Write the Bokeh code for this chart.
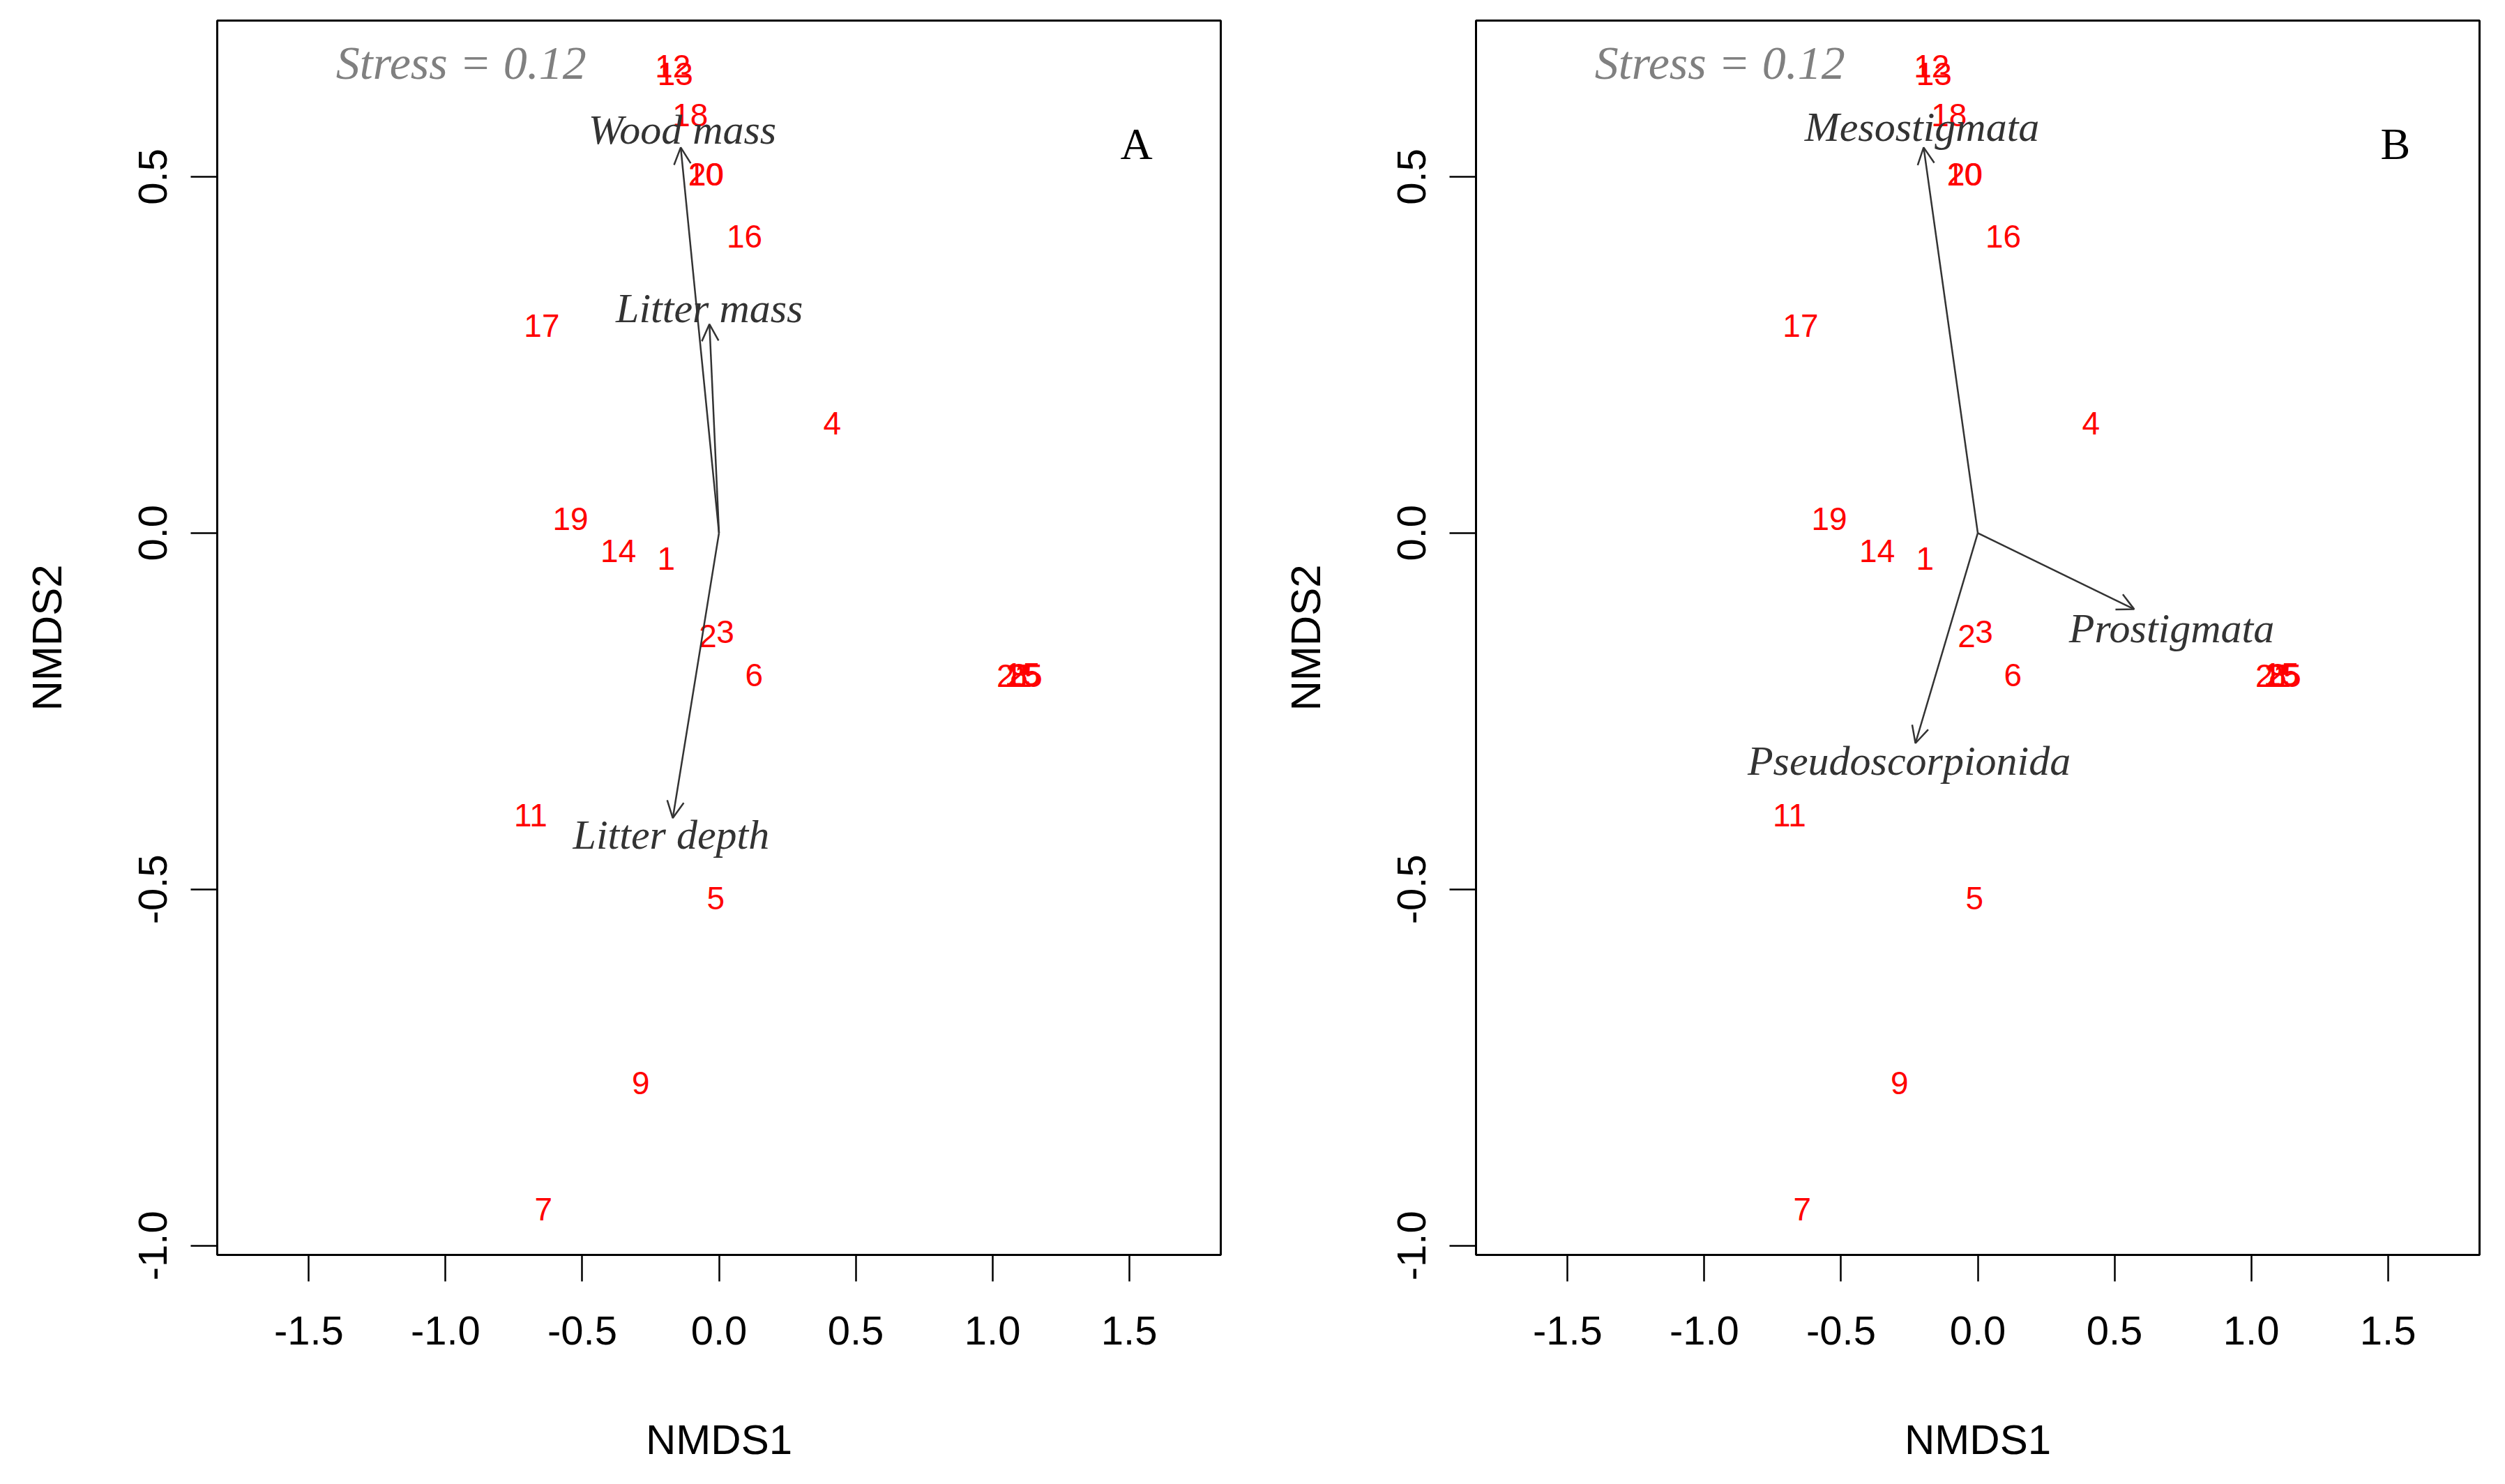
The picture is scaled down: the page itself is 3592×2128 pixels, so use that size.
import math
from bokeh.plotting import figure
from bokeh.layouts import row
from bokeh.models import (ColumnDataSource, Range1d, FixedTicker, PrintfTickFormatter,
                          Arrow, OpenHead, Label)
from bokeh.core.properties import value
from bokeh.embed import file_html
from bokeh.resources import INLINE

# ---- site scores (NMDS1, NMDS2) ----
site_labels = ["12", "13", "18", "10", "20", "16", "17", "4", "19", "14", "1",
               "2", "3", "6", "21", "8", "15", "25", "11", "5", "9", "7"]
nmds1 = [-0.169, -0.160, -0.105, -0.050, -0.047, 0.093, -0.648, 0.414, -0.543, -0.368, -0.193,
         -0.041, 0.023, 0.128, 1.080, 1.097, 1.110, 1.118, -0.689, -0.012, -0.286, -0.642]
nmds2 = [0.655, 0.644, 0.586, 0.503, 0.503, 0.416, 0.291, 0.154, 0.020, -0.025, -0.036,
         -0.145, -0.139, -0.199, -0.200, -0.199, -0.198, -0.200, -0.396, -0.512, -0.772, -0.949]

# ---- panel A: environmental vectors ----
env_names = ["Wood mass", "Litter mass", "Litter depth"]
env_x = [-0.140, -0.035, -0.169]
env_y = [0.541, 0.293, -0.400]
env_lab_x = [-0.134, -0.035, -0.175]
env_lab_y = [0.566, 0.315, -0.423]

# ---- panel B: taxa vectors ----
taxa_names = ["Mesostigmata", "Prostigmata", "Pseudoscorpionida"]
taxa_x = [-0.198, 0.572, -0.228]
taxa_y = [0.541, -0.107, -0.295]
taxa_lab_x = [-0.204, 0.709, -0.251]
taxa_lab_y = [0.570, -0.134, -0.320]

x_ticks = [-1.5, -1.0, -0.5, 0.0, 0.5, 1.0, 1.5]
y_ticks = [-1.0, -0.5, 0.0, 0.5]
stress_text = "Stress = 0.12"
stress_pos = (-0.943, 0.660)
panel_tag_pos = (1.527, 0.546)

XR = (-1.835, 1.835)
YR = (-1.013, 0.719)

ARROW_COL = "#333333"


def make_panel(tag, names, vx, vy, lx, ly, left_border, right_border):
    p = figure(x_range=Range1d(*XR), y_range=Range1d(*YR),
               frame_width=1439, frame_height=1770,
               min_border_left=left_border, min_border_right=right_border,
               min_border_top=29, min_border_bottom=312,
               output_backend="svg", toolbar_location=None,
               background_fill_color="white", border_fill_color="white")
    p.grid.visible = False
    p.outline_line_color = "black"
    p.outline_line_width = 3
    p.outline_line_alpha = 1.0

    for ax in (p.xaxis[0], p.yaxis[0]):
        ax.axis_line_color = None
        ax.major_tick_in = 0
        ax.major_tick_out = 38
        ax.major_tick_line_width = 2.5
        ax.major_tick_line_color = "black"
        ax.minor_tick_line_color = None
        ax.major_label_text_font = "Liberation Sans"
        ax.major_label_text_font_size = "58px"
        ax.major_label_text_color = "black"
        ax.axis_label_text_font = "Liberation Sans"
        ax.axis_label_text_font_size = "60px"
        ax.axis_label_text_font_style = "normal"
        ax.axis_label_text_color = "black"
        ax.formatter = PrintfTickFormatter(format="%.1f")

    p.xaxis[0].ticker = FixedTicker(ticks=x_ticks)
    p.yaxis[0].ticker = FixedTicker(ticks=y_ticks)
    p.xaxis[0].axis_label = "NMDS1"
    p.yaxis[0].axis_label = "NMDS2"
    p.xaxis[0].major_label_standoff = 50
    p.xaxis[0].axis_label_standoff = 100
    p.yaxis[0].major_label_orientation = "vertical"
    p.yaxis[0].major_label_standoff = 34
    p.yaxis[0].axis_label_standoff = 96

    # site labels
    src = ColumnDataSource(dict(x=nmds1, y=nmds2, label=site_labels))
    p.text(x="x", y="y", text="label", source=src, text_color="#ff0000",
           text_font=value("Liberation Sans"), text_font_size="46px",
           text_align="center", text_baseline="middle")

    # vectors
    asrc = ColumnDataSource(dict(x0=[0.0] * len(vx), y0=[0.0] * len(vy), x1=vx, y1=vy))
    p.add_layout(Arrow(end=OpenHead(size=24, line_color=ARROW_COL, line_width=2.5),
                       x_start="x0", y_start="y0", x_end="x1", y_end="y1",
                       source=asrc, line_color=ARROW_COL, line_width=2.5))
    lsrc = ColumnDataSource(dict(x=lx, y=ly, name=names))
    p.text(x="x", y="y", text="name", source=lsrc, text_color=ARROW_COL,
           text_font=value("Liberation Serif"), text_font_style="italic",
           text_font_size="60px", text_align="center", text_baseline="middle")

    # stress and panel tag
    p.add_layout(Label(x=stress_pos[0], y=stress_pos[1], text=stress_text,
                       text_font="Liberation Serif", text_font_style="italic",
                       text_font_size="68px", text_color="#808080",
                       text_align="center", text_baseline="middle"))
    p.add_layout(Label(x=panel_tag_pos[0], y=panel_tag_pos[1], text=tag,
                       text_font="Liberation Serif", text_font_size="64px",
                       text_color="black", text_align="center", text_baseline="middle"))
    return p


pA = make_panel("A", env_names, env_x, env_y, env_lab_x, env_lab_y, 311, 60)
pB = make_panel("B", taxa_names, taxa_x, taxa_y, taxa_lab_x, taxa_lab_y, 306, 20)

layout = row(pA, pB)
open("out.html", "w").write(file_html(layout, INLINE))
